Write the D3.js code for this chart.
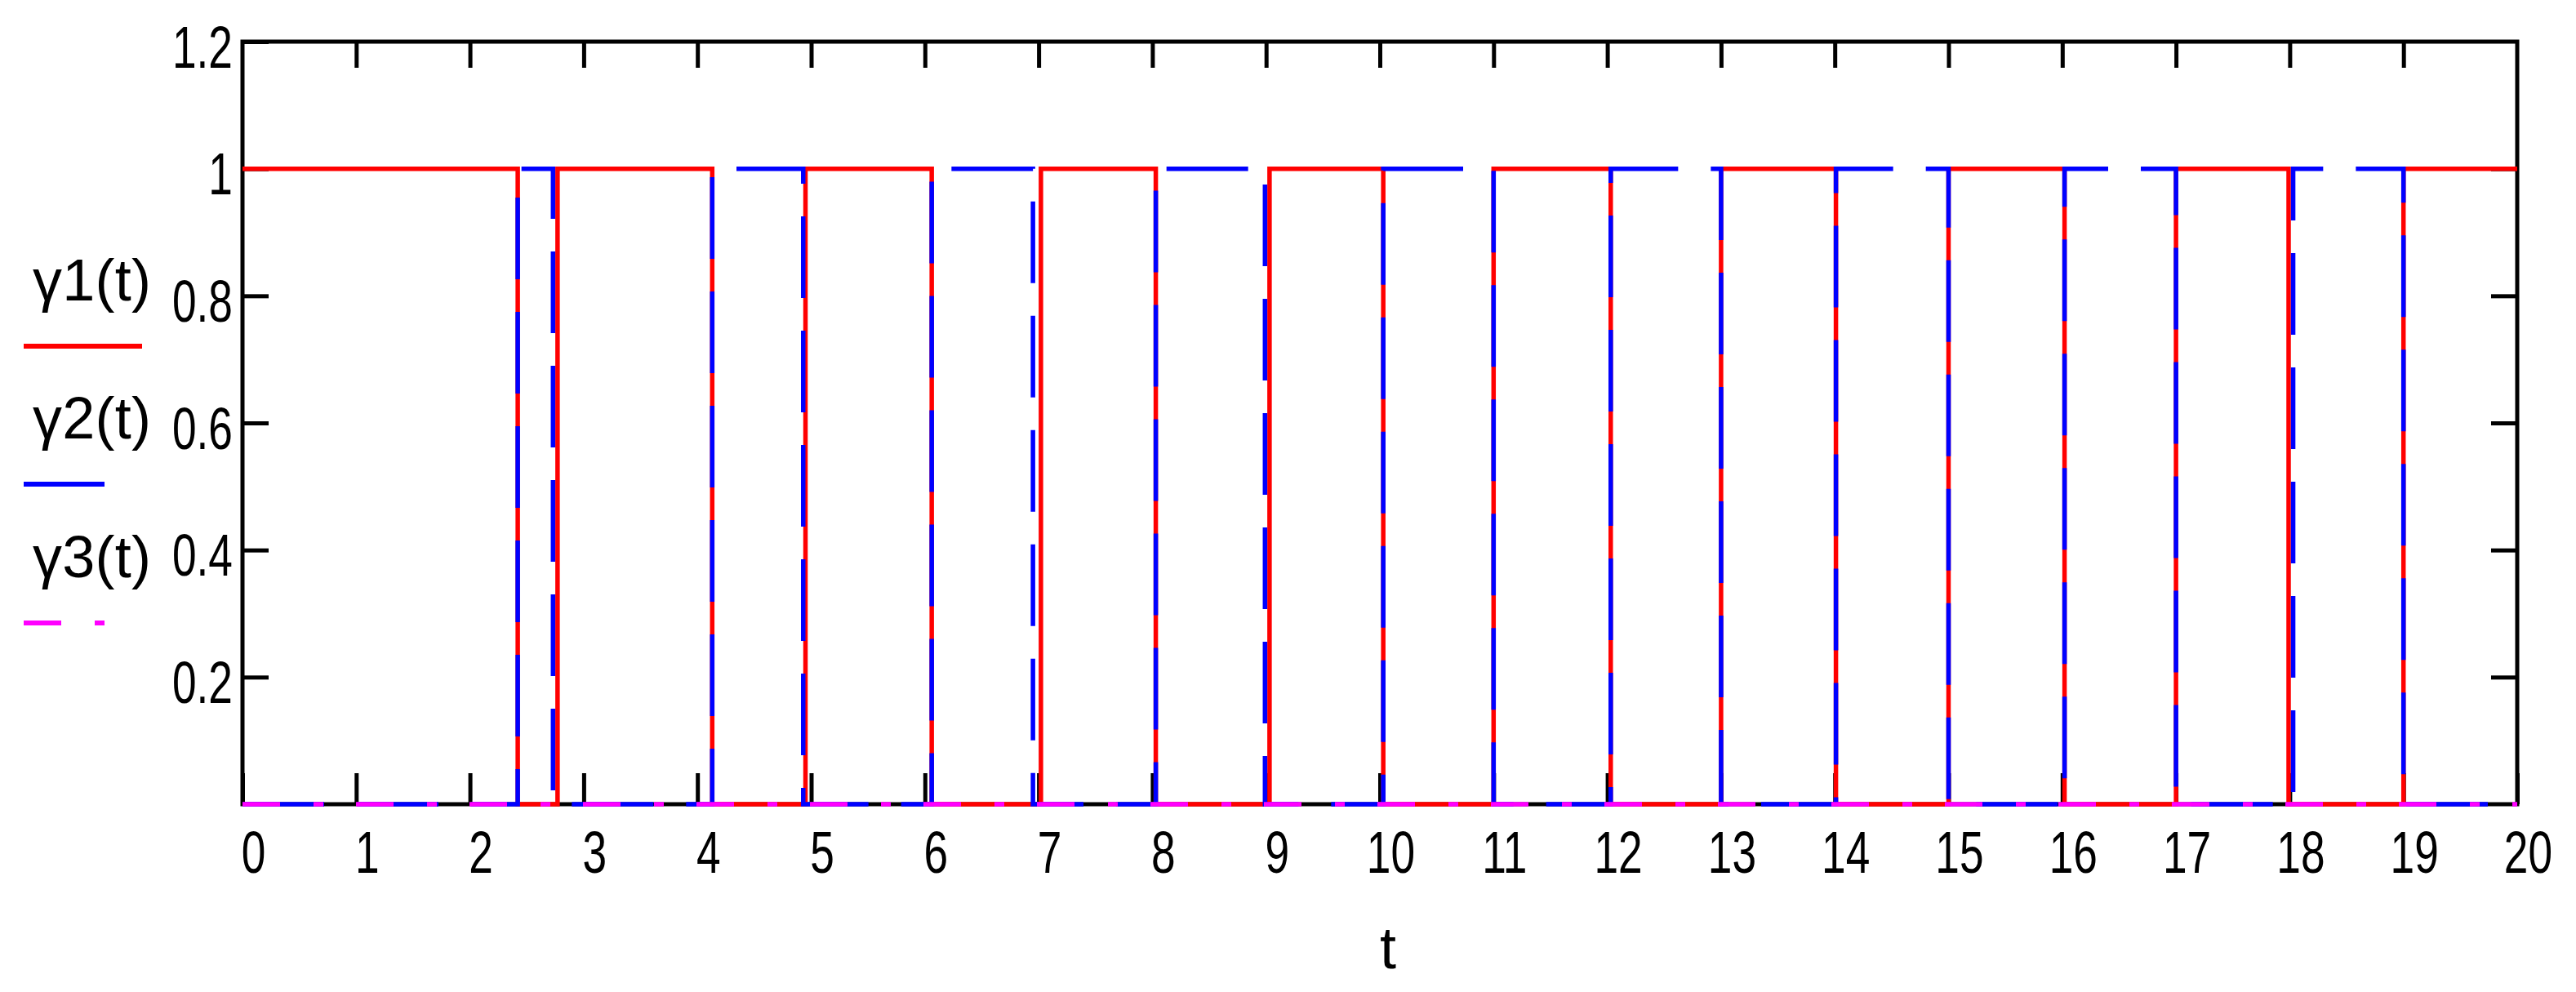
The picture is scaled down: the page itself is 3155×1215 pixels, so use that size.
<!DOCTYPE html>
<html>
<head>
  <script src="https://d3js.org/d3.v7.min.js"></script>
  <style>
    body { margin: 0; background: #fff; }
    text { font-family: "Liberation Sans", Arial, sans-serif; font-size: 72px; fill: #000; }
  </style>
</head>
<body>
<script>
// switch times and the level each trace holds from that time on
var gamma1Times  = [0, 2.42, 2.77, 4.13, 4.95, 6.06, 7.02, 8.03, 9.03, 10.03, 11.0, 12.03, 13.0, 14.01, 15.0, 16.02, 17.0, 17.99, 19.0, 20];
var gamma1Levels = [1, 0,    1,    0,    1,    0,    1,    0,    1,    0,     1,    0,     1,    0,     1,    0,     1,    0,     1,    1];
var gamma2Times  = [0, 2.42, 2.73, 4.13, 4.93, 6.06, 6.95, 8.03, 8.99, 10.03, 11.0, 12.03, 13.0, 14.01, 15.0, 16.02, 17.0, 18.03, 19.0, 20];
var gamma2Levels = [0, 1,    0,    1,    0,    1,    0,    1,    0,    1,     0,    1,     0,    1,     0,    1,     0,    1,     0,    0];
var gamma3Times  = [0, 20];
var gamma3Levels = [0, 0];

var seriesNames = ["\u03b31(t)", "\u03b32(t)", "\u03b33(t)"];
var xTicks = d3.range(0, 21);
var xTickLabels = xTicks.map(String);
var yTicks = [0.2, 0.4, 0.6, 0.8, 1, 1.2];
var yTickLabels = ["0.2", "0.4", "0.6", "0.8", "1", "1.2"];
var xTitle = "t";

(function() {
  var W = 3155, H = 1215;
  var pLeft = 297, pRight = 3083, pTop = 51, pBottom = 985;
  var sx = 0.74; // narrow the glyphs like the original bitmap font

  var svg = d3.select("body").append("svg")
    .attr("width", W)
    .attr("height", H)
    .style("display", "block");

  svg.append("rect").attr("width", W).attr("height", H).attr("fill", "#fff");

  var x = d3.scaleLinear().domain([0, 20]).range([pLeft, pRight]);
  var y = d3.scaleLinear().domain([0, 1.2]).range([pBottom, pTop]);

  function cleanAxis(g) {
    g.attr("font-size", null).attr("font-family", null);
    g.select(".domain").remove();
    g.selectAll(".tick line").attr("stroke", "#000").attr("stroke-width", 5);
  }

  // ticks on all four sides
  var xb = svg.append("g")
    .attr("transform", "translate(0," + y(0) + ")")
    .call(d3.axisBottom(x).tickValues(xTicks).tickSize(-38)
      .tickFormat(function(d, i) { return xTickLabels[i]; }))
    .call(cleanAxis);
  xb.selectAll("text")
    .attr("x", 13 / sx).attr("y", 84).attr("dy", null)
    .attr("transform", "scale(" + sx + ",1)")
    .attr("text-anchor", "middle");

  svg.append("g")
    .attr("transform", "translate(0," + y(1.2) + ")")
    .call(d3.axisTop(x).tickValues(xTicks.slice(1, -1)).tickSize(-32).tickFormat(""))
    .call(cleanAxis);

  var yl = svg.append("g")
    .attr("transform", "translate(" + x(0) + ",0)")
    .call(d3.axisLeft(y).tickValues(yTicks).tickSize(-32)
      .tickFormat(function(d, i) { return yTickLabels[i]; }))
    .call(cleanAxis);
  yl.selectAll("text")
    .attr("x", -12 / sx).attr("y", 31).attr("dy", null)
    .attr("transform", "scale(" + sx + ",1)")
    .attr("text-anchor", "end");

  svg.append("g")
    .attr("transform", "translate(" + x(20) + ",0)")
    .call(d3.axisRight(y).tickValues(yTicks.slice(0, -1)).tickSize(-32).tickFormat(""))
    .call(cleanAxis);

  // frame
  svg.append("rect")
    .attr("x", x(0)).attr("y", y(1.2))
    .attr("width", x(20) - x(0)).attr("height", y(0) - y(1.2))
    .attr("fill", "none").attr("stroke", "#000").attr("stroke-width", 5);

  // traces
  var line = d3.line()
    .x(function(d) { return x(d.t); })
    .y(function(d) { return y(d.v); })
    .curve(d3.curveStepAfter);

  function pts(ts, vs) {
    return ts.map(function(t, i) { return {t: t, v: vs[i]}; });
  }

  var series = [
    {data: pts(gamma1Times, gamma1Levels), color: "#ff0000", dash: null},
    {data: pts(gamma2Times, gamma2Levels), color: "#0000ff", dash: "100,40"},
    {data: pts(gamma3Times, gamma3Levels), color: "#ff00ff", dash: "46,41,12,40"}
  ];

  series.forEach(function(s) {
    svg.append("path")
      .datum(s.data)
      .attr("d", line)
      .attr("fill", "none")
      .attr("stroke", s.color)
      .attr("stroke-width", 5.5)
      .attr("stroke-dasharray", s.dash);
  });

  // legend at the left
  var legendBase = [368, 537, 707];
  var legendLen = [145, 99, 99];
  series.forEach(function(s, i) {
    svg.append("text")
      .attr("x", 40).attr("y", legendBase[i])
      .attr("textLength", 145)
      .attr("lengthAdjust", "spacing")
      .text(seriesNames[i]);
    svg.append("line")
      .attr("x1", 29).attr("x2", 29 + legendLen[i])
      .attr("y1", legendBase[i] + 56).attr("y2", legendBase[i] + 56)
      .attr("stroke", s.color)
      .attr("stroke-width", 6)
      .attr("stroke-dasharray", s.dash);
  });

  // axis title
  svg.append("text")
    .attr("x", (x(0) + x(20)) / 2 + 10)
    .attr("y", 1186)
    .attr("text-anchor", "middle")
    .text(xTitle);
})();
</script>
</body>
</html>
